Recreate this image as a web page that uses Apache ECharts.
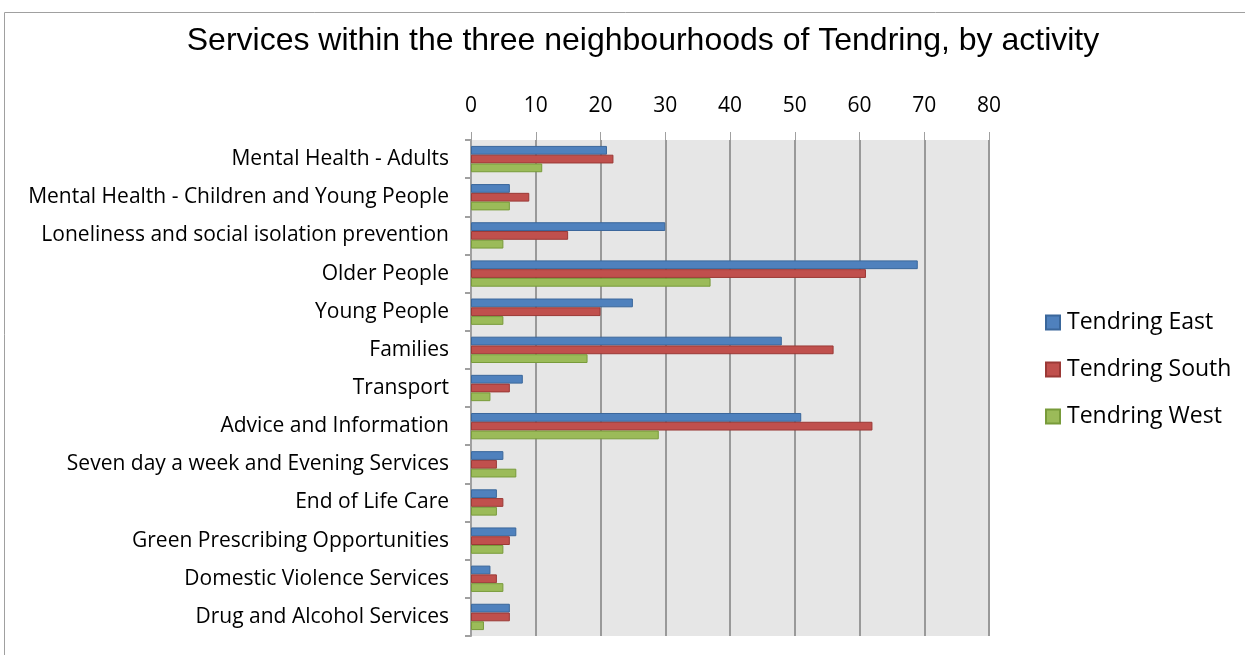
<!DOCTYPE html>
<html><head><meta charset="utf-8">
<script src="https://cdn.jsdelivr.net/npm/echarts@6/dist/echarts.min.js"></script>
<style>html,body{margin:0;padding:0;background:#fff}#c{width:1245px;height:655px}</style>
</head><body><div id="c"></div>
<script>
const categories = ["Mental Health - Adults","Mental Health - Children and Young People","Loneliness and social isolation prevention","Older People","Young People","Families","Transport","Advice and Information","Seven day a week and Evening Services","End of Life Care","Green Prescribing Opportunities","Domestic Violence Services","Drug and Alcohol Services"];
const tendringEast  = [21, 6, 30, 69, 25, 48, 8, 51, 5, 4, 7, 3, 6];
const tendringSouth = [22, 9, 15, 61, 20, 56, 6, 62, 4, 5, 6, 4, 6];
const tendringWest  = [11, 6, 5, 37, 5, 18, 3, 29, 7, 4, 5, 5, 2];
const xTicks = [0, 10, 20, 30, 40, 50, 60, 70, 80];

const chart = echarts.init(document.getElementById('c'));
const mk = (name, data, color, border) => ({
  name, type: 'bar', data, barGap: '0%', barCategoryGap: '31%',
  itemStyle: { color, borderColor: border, borderWidth: 1 }
});
chart.setOption({
  animation: false,
  graphic: [{ type: 'rect', shape: { x: 4.5, y: 12.5, width: 1250, height: 660 }, style: { fill: 'none', stroke: '#a0a0a0', lineWidth: 1 } }],
  title: { text: 'Services within the three neighbourhoods of Tendring, by activity', left: 638, top: 20, textAlign: 'center',
    textStyle: { fontFamily: 'Liberation Sans', fontWeight: 'normal', fontSize: 32, color: '#000' } },
  legend: { orient: 'vertical', left: 1040, top: 306, itemWidth: 14, itemHeight: 14, itemGap: 24,
    icon: 'rect', textStyle: { fontFamily: 'Open Sans', fontSize: 23, color: '#000', padding: [0,0,0,2] } },
  grid: { left: 471, top: 140, width: 518, height: 496, containLabel: false,
    show: true, backgroundColor: '#e6e6e6', borderWidth: 0 },
  xAxis: { type: 'value', position: 'top', min: xTicks[0], max: xTicks[xTicks.length-1], interval: 10,
    axisLine: { show: false }, axisTick: { show: true, length: 8, lineStyle: { color: '#a0a0a0' } },
    splitLine: { show: true, lineStyle: { color: '#999', width: 2 } },
    axisLabel: { fontFamily: 'Open Sans', fontSize: 21, color: '#000', margin: 23 } },
  yAxis: { type: 'category', data: categories, inverse: true,
    axisLine: { show: true, lineStyle: { color: '#a0a0a0', width: 2 } },
    axisTick: { show: true, length: 6, lineStyle: { color: '#a0a0a0', width: 2 } },
    axisLabel: { fontFamily: 'Open Sans', fontSize: 21, color: '#000', margin: 22 } },
  series: [
    mk('Tendring East', tendringEast, '#4f81bd', '#3a679b'),
    mk('Tendring South', tendringSouth, '#c0504d', '#9b3936'),
    mk('Tendring West', tendringWest, '#9bbb59', '#789b3a')
  ]
});
</script></body></html>
